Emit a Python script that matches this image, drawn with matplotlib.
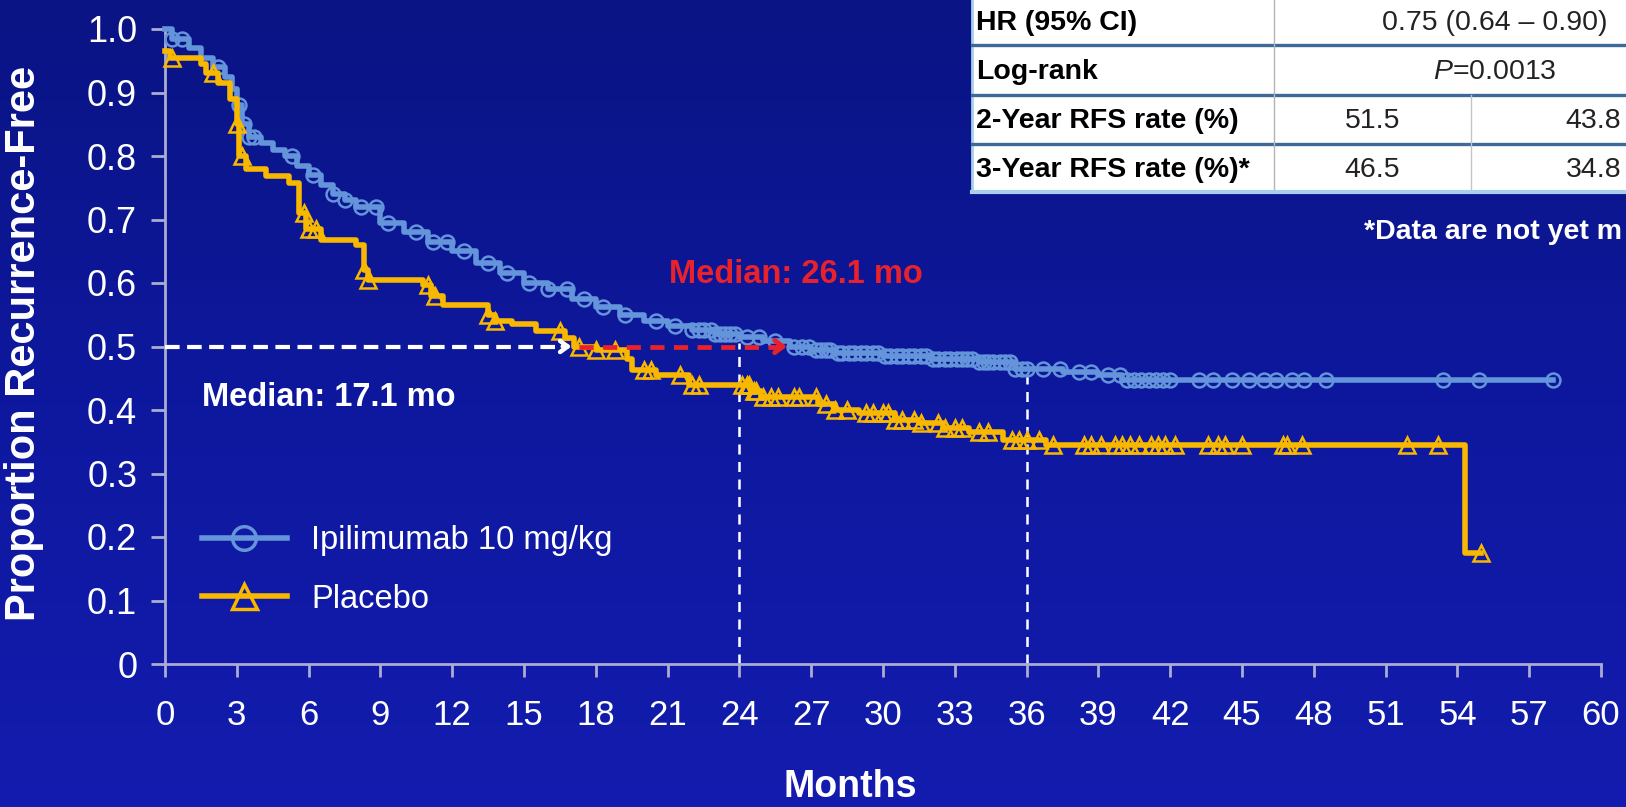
import numpy as np
import matplotlib
matplotlib.use("Agg")
import matplotlib.pyplot as plt
from matplotlib.lines import Line2D
from matplotlib.patches import Rectangle
from matplotlib.colors import LinearSegmentedColormap

plt.rcParams['font.family'] = ['Liberation Sans', 'DejaVu Sans']
plt.rcParams['mathtext.fontset'] = 'custom'
plt.rcParams['mathtext.it'] = 'Liberation Sans:italic'
plt.rcParams['mathtext.rm'] = 'Liberation Sans'

# Kaplan-Meier steps (month, proportion after the drop)
ipi_t = [0, 0.3, 1.0, 1.5, 2.0, 2.5, 2.8, 3.0, 3.2, 3.5, 4.0, 4.5, 5.0, 5.5, 6.0, 6.5,
         7.0, 7.5, 8.0, 9.0, 10.0, 11.0, 12.0, 13.0, 14.0, 15.0, 16.0, 17.0, 18.0,
         19.0, 20.0, 21.0, 22.0, 23.0, 24.0, 25.0, 26.1, 27.0, 28.0, 30.0, 32.0,
         34.0, 35.5, 37.5, 39.0, 40.0]
ipi_s = [1.0, 0.985, 0.97, 0.955, 0.94, 0.925, 0.905, 0.88, 0.85, 0.83, 0.82, 0.81,
         0.80, 0.785, 0.77, 0.755, 0.74, 0.73, 0.72, 0.695, 0.68, 0.665, 0.65, 0.632,
         0.615, 0.60, 0.59, 0.575, 0.562, 0.55, 0.54, 0.532, 0.526, 0.52, 0.515,
         0.508, 0.50, 0.495, 0.49, 0.485, 0.48, 0.475, 0.465, 0.46, 0.455, 0.447]
ipi_end = 58.0
ipi_cens = [0.3, 0.7, 2.2, 3.1, 3.3, 3.5, 3.7, 5.3, 6.2, 7.0, 7.5, 8.2, 8.8, 9.3, 10.5,
            11.2, 11.8, 12.5, 13.5, 14.3, 15.2, 16.0, 16.8, 17.5, 18.3, 19.2, 20.5,
            21.3, 22.0, 22.3, 22.5, 22.8, 23.0, 23.2, 23.4, 23.6, 23.8, 24.3, 24.8,
            25.5, 26.3, 26.6, 26.9, 27.2, 27.4, 27.6, 27.8, 28.1, 28.3, 28.6, 28.8,
            29.1, 29.3, 29.6, 29.8, 30.1, 30.3, 30.6, 30.8, 31.1, 31.3, 31.6, 31.8,
            32.1, 32.3, 32.6, 32.8, 33.1, 33.3, 33.5, 33.7, 34.0, 34.2, 34.4, 34.6,
            34.9, 35.1, 35.3, 35.5, 35.8, 36.0, 36.7, 37.4, 38.2, 38.7, 39.4, 39.9,
            40.2, 40.5, 40.8, 41.1, 41.4, 41.7, 42.0, 43.2, 43.8, 44.6, 45.3, 45.9,
            46.4, 47.1, 47.6, 48.5, 53.4, 54.9, 58.0]

pla_t = [0, 0.2, 1.5, 1.7, 2.2, 2.7, 3.0, 3.1, 3.4, 4.2, 5.2, 5.6, 5.9, 6.5, 8.0, 8.3,
         8.5, 10.8, 11.1, 11.6, 13.5, 13.8, 14.5, 15.5, 16.7, 17.1, 18.0, 19.3, 19.5,
         20.5, 21.9, 24.5, 24.9, 27.3, 28.0, 29.0, 30.5, 31.5, 32.5, 33.6, 35.0, 36.8,
         54.3]
pla_s = [0.965, 0.955, 0.945, 0.93, 0.915, 0.89, 0.85, 0.80, 0.78, 0.768, 0.757, 0.71,
         0.685, 0.668, 0.66, 0.62, 0.605, 0.597, 0.58, 0.565, 0.55, 0.54, 0.535, 0.525,
         0.513, 0.50, 0.495, 0.48, 0.463, 0.455, 0.44, 0.43, 0.42, 0.41, 0.40, 0.395,
         0.385, 0.38, 0.372, 0.365, 0.353, 0.345, 0.175]
pla_end = 55.0
pla_cens = [0.3, 2.0, 3.0, 3.2, 5.8, 6.0, 6.3, 8.3, 8.5, 11.0, 11.3, 13.5, 13.8, 16.5,
            17.3, 18.0, 18.8, 20.0, 20.3, 21.5, 22.0, 22.3, 24.1, 24.3, 24.4, 24.6,
            24.7, 25.0, 25.3, 25.6, 26.3, 26.5, 27.2, 27.6, 28.0, 28.5, 29.3, 29.6,
            30.0, 30.2, 30.5, 30.8, 31.3, 31.6, 32.3, 32.6, 33.0, 33.3, 34.0, 34.4,
            35.4, 35.7, 36.0, 36.5, 37.1, 38.4, 38.7, 39.1, 39.7, 40.0, 40.3, 40.7,
            41.2, 41.5, 41.8, 42.2, 43.6, 44.0, 44.3, 45.0, 46.7, 46.9, 47.5, 51.9,
            53.2, 55.0]

labels = ["Ipilimumab 10 mg/kg", "Placebo"]
median_ipi = 26.1
median_pla = 17.1
landmarks = [24, 36]

x_ticks = list(range(0, 61, 3))
y_ticks = [0, 0.1, 0.2, 0.3, 0.4, 0.5, 0.6, 0.7, 0.8, 0.9, 1.0]
y_ticklabels = ["0", "0.1", "0.2", "0.3", "0.4", "0.5", "0.6", "0.7", "0.8", "0.9", "1.0"]

table_rows = ["HR (95% CI)", "Log-rank", "2-Year RFS rate (%)", "3-Year RFS rate (%)*"]
hr_text = "0.75 (0.64 \u2013 0.90)"
logrank_text = "$P$=0.0013"
rfs_ipi = ["51.5", "46.5"]
rfs_pla = ["43.8", "34.8"]
footnote = "*Data are not yet m"

BLUE = "#6494da"
YELLOW = "#f8b800"
RED = "#e8222c"
AXC = "#a9add2"


def step_value(t, s, x):
    idx = np.searchsorted(t, x, side="right") - 1
    return np.asarray(s)[idx]


W, H = 1626, 807
fig = plt.figure(figsize=(W / 100, H / 100), dpi=100)

# background gradient
bax = fig.add_axes([0, 0, 1, 1], zorder=-10)
cmap = LinearSegmentedColormap.from_list("bg", ["#0a1484", "#0e189e", "#131cae"])
bax.imshow(np.linspace(0, 1, 256).reshape(-1, 1), aspect="auto", cmap=cmap,
           extent=[0, 1, 0, 1])
bax.axis("off")

ax = fig.add_axes([165 / W, (H - 664) / H, (1601 - 165) / W, (664 - 29) / H])
ax.set_facecolor("none")
ax.set_xlim(0, 60)
ax.set_ylim(0, 1)

# landmark lines
for lm in landmarks:
    ax.vlines(lm, 0, step_value(ipi_t, ipi_s, lm) - 0.01, colors="white",
              linestyles=(0, (4, 3)), lw=1.8, zorder=2)

# curves
ax.step(ipi_t + [ipi_end], ipi_s + [ipi_s[-1]], where="post", color=BLUE, lw=4,
        zorder=3, clip_on=False)
ax.plot(ipi_cens, step_value(ipi_t, ipi_s, ipi_cens), ls="none", marker="o", ms=10,
        mfc="none", mec=BLUE, mew=1.8, zorder=3, clip_on=False)
ax.step(pla_t + [pla_end], pla_s + [pla_s[-1]], where="post", color=YELLOW, lw=4,
        zorder=4, clip_on=False)
ax.plot(pla_cens, step_value(pla_t, pla_s, pla_cens), ls="none", marker="^", ms=11,
        mfc="none", mec=YELLOW, mew=1.8, zorder=4, clip_on=False)

# median annotations
ax.plot([0, median_pla - 0.3], [0.5, 0.5], color="white", lw=3, dashes=(3.5, 1.8),
        zorder=5)
ax.annotate("", xy=(median_pla, 0.5), xytext=(median_pla - 0.6, 0.5),
            arrowprops=dict(arrowstyle="->,head_length=0.55,head_width=0.4",
                            color="white", lw=3.2), zorder=6)
ax.plot([median_pla + 0.2, median_ipi - 0.3], [0.5, 0.5], color=RED, lw=3.4,
        dashes=(3, 2), zorder=5)
ax.annotate("", xy=(median_ipi, 0.5), xytext=(median_ipi - 0.6, 0.5),
            arrowprops=dict(arrowstyle="->,head_length=0.6,head_width=0.45",
                            color=RED, lw=3.4), zorder=6)
ax.text(1.55, 0.42, "Median: %.1f mo" % median_pla, color="white", fontsize=23.5,
        fontweight="bold", va="center", ha="left")
ax.text(21.06, 0.613, "Median: %.1f mo" % median_ipi, color=RED, fontsize=23.5,
        fontweight="bold", va="center", ha="left")

# axes styling
for side in ["top", "right"]:
    ax.spines[side].set_visible(False)
for side in ["left", "bottom"]:
    ax.spines[side].set_color(AXC)
    ax.spines[side].set_linewidth(2)
ax.set_xticks(x_ticks)
ax.set_yticks(y_ticks)
ax.set_yticklabels(y_ticklabels)
ax.tick_params(axis="both", colors=AXC, width=2, direction="out", labelcolor="white")
ax.tick_params(axis="y", length=10, pad=10, labelsize=26)
ax.tick_params(axis="x", length=9, pad=16, labelsize=25)

ax.set_xlabel("Months", color="white", fontsize=27, fontweight="bold")
ax.xaxis.set_label_coords(0.477, -0.165)
ax.set_ylabel("Proportion Recurrence-Free", color="white", fontsize=30,
              fontweight="bold")
ax.yaxis.set_label_coords(-0.084, 0.505)

handles = [Line2D([], [], color=BLUE, lw=4, marker="o", ms=17, mfc="none", mec=BLUE,
                  mew=2.5),
           Line2D([], [], color=YELLOW, lw=4, marker="^", ms=18, mfc="none",
                  mec=YELLOW, mew=2.5)]
leg = ax.legend(handles, labels, loc="center left", bbox_to_anchor=(0.0258, 0.148),
                frameon=False, fontsize=23.5, labelcolor="white", handlelength=2.6,
                handletextpad=0.75, labelspacing=0.85, borderpad=0, borderaxespad=0)

# table overlay in pixel coordinates
tax = fig.add_axes([0, 0, 1, 1], zorder=10)
tax.set_xlim(0, W)
tax.set_ylim(H, 0)
tax.axis("off")
col_x = [972, 1274, 1471, 1716]
row_y = [-4, 45, 95, 144, 192]
tax.add_patch(Rectangle((col_x[0], row_y[0]), col_x[-1] - col_x[0],
                        row_y[-1] - row_y[0], facecolor="white", edgecolor="#a8d0ee",
                        lw=2, clip_on=False))
for y in row_y[1:-1]:
    tax.plot([col_x[0], W + 50], [y, y], color="#3d6a98", lw=2.4)
tax.plot([col_x[1], col_x[1]], [row_y[0], row_y[-1]], color="#b4b4b4", lw=1)
tax.plot([col_x[2], col_x[2]], [row_y[2], row_y[-1]], color="#c4c4c4", lw=1)
tax.plot([col_x[0], W + 50], [row_y[-1], row_y[-1]], color="#a8d0ee", lw=3)

row_c = [(row_y[i] + row_y[i + 1]) / 2 + 2 for i in range(4)]
for i, lab in enumerate(table_rows):
    tax.text(col_x[0] + 4, row_c[i], lab, fontsize=20.5, fontweight="bold",
             color="black", va="center", ha="left")
mid23 = (col_x[1] + col_x[3]) / 2
tax.text(mid23, row_c[0], hr_text, fontsize=20.5, va="center", ha="center",
         color="#222222")
tax.text(mid23, row_c[1], logrank_text, fontsize=20.5, va="center", ha="center",
         color="#222222")
for i in range(2):
    tax.text((col_x[1] + col_x[2]) / 2, row_c[2 + i], rfs_ipi[i], fontsize=20.5,
             va="center", ha="center", color="#222222")
    tax.text((col_x[2] + col_x[3]) / 2, row_c[2 + i], rfs_pla[i], fontsize=20.5,
             va="center", ha="center", color="#222222")
tax.text(1622, 232, footnote, fontsize=20.5, fontweight="bold",
         color="white", va="center", ha="right")

fig.savefig("out.png", dpi=100)
